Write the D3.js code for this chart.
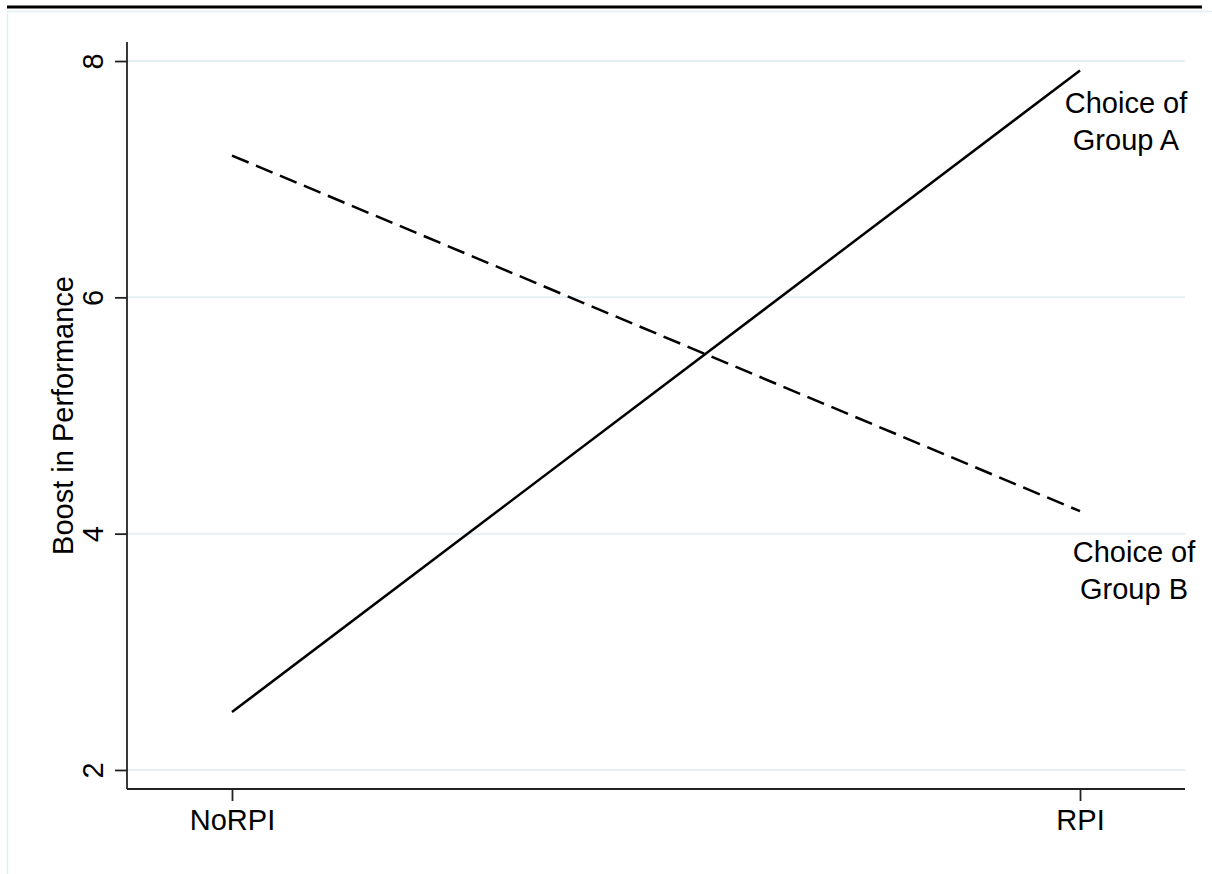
<!DOCTYPE html>
<html>
<head>
<meta charset="utf-8">
<script src="https://cdn.jsdelivr.net/npm/d3@7"></script>
<style>
  html, body { margin: 0; padding: 0; background: #fff; }
  svg { display: block; }
  text { font-family: "Liberation Sans", Arial, Helvetica, sans-serif; fill: #000; }
</style>
</head>
<body>
<svg id="chart" width="1212" height="874"></svg>
<script>
// ---- data ----
const categories = ["NoRPI", "RPI"];
const groupA = [2.49, 7.92];   // solid line
const groupB = [7.2, 4.19];    // dashed line
const yTicks = [2, 4, 6, 8];
const yTitle = "Boost in Performance";
const labelA = ["Choice of", "Group A"];
const labelB = ["Choice of", "Group B"];

// ---- layout ----
const W = 1212, H = 874;
const mLeft = 127, mRight = 1185, mTop = 42, mBottom = 789;
const FS = "29px";
const svg = d3.select("#chart");

// frame
svg.append("line").attr("x1", 7).attr("x2", 1202).attr("y1", 7).attr("y2", 7)
  .attr("stroke", "#000").attr("stroke-width", 3);
svg.append("line").attr("x1", 7).attr("x2", W).attr("y1", 11.5).attr("y2", 11.5)
  .attr("stroke", "#e4eef0").attr("stroke-width", 1.5);
svg.append("line").attr("x1", 7.5).attr("x2", 7.5).attr("y1", 11).attr("y2", H)
  .attr("stroke", "#e4eef0").attr("stroke-width", 1.5);

const x = d3.scalePoint().domain(categories).range([mLeft, mRight]).padding(0.1238);
const y = d3.scaleLinear().domain([1.839, 8.161]).range([mBottom, mTop]);

// gridlines
svg.append("g").selectAll("line").data(yTicks).join("line")
  .attr("x1", mLeft).attr("x2", mRight)
  .attr("y1", d => y(d)).attr("y2", d => y(d))
  .attr("stroke", "#e6eff1").attr("stroke-width", 2);

// y axis
const yAxis = svg.append("g").attr("transform", `translate(${mLeft},0)`)
  .call(d3.axisLeft(y).tickValues(yTicks).tickSize(12).tickPadding(0).tickFormat(d3.format("d")));
yAxis.select(".domain").attr("stroke", "#222").attr("stroke-width", 1.8)
  .attr("d", `M0,${mTop}V${mBottom}`);
yAxis.selectAll(".tick line").attr("stroke", "#222").attr("stroke-width", 1.8);
yAxis.selectAll(".tick text")
  .attr("x", 0).attr("y", 0)
  .attr("transform", "translate(-24,0) rotate(-90)")
  .attr("text-anchor", "middle")
  .attr("dy", 0)
  .style("font-size", FS)
  .style("font-family", "Liberation Sans, Arial, sans-serif")
  .attr("fill", "#000");

// x axis
const xAxis = svg.append("g").attr("transform", `translate(0,${mBottom})`)
  .call(d3.axisBottom(x).tickSize(12).tickPadding(8));
xAxis.select(".domain").attr("stroke", "#222").attr("stroke-width", 1.8)
  .attr("d", `M${mLeft},0H${mRight}`);
xAxis.selectAll(".tick line").attr("stroke", "#222").attr("stroke-width", 1.8);
xAxis.selectAll(".tick text")
  .attr("y", 41).attr("dy", 0)
  .style("font-size", FS)
  .style("font-family", "Liberation Sans, Arial, sans-serif")
  .attr("fill", "#000");

// y title
svg.append("text")
  .attr("transform", `translate(73,${(mTop + mBottom) / 2}) rotate(-90)`)
  .attr("text-anchor", "middle")
  .style("font-size", FS)
  .text(yTitle);

// lines
const line = d3.line().x((d, i) => x(categories[i])).y(d => y(d));
svg.append("path").datum(groupA).attr("d", line)
  .attr("fill", "none").attr("stroke", "#000").attr("stroke-width", 2.5);
svg.append("path").datum(groupB).attr("d", line)
  .attr("fill", "none").attr("stroke", "#000").attr("stroke-width", 2.5)
  .attr("stroke-dasharray", "18,8");

// labels
function addLabel(lines, cx, baseline) {
  const t = svg.append("text").attr("text-anchor", "middle").style("font-size", FS);
  lines.forEach((s, i) => t.append("tspan").attr("x", cx).attr("y", baseline + i * 37).text(s));
}
addLabel(labelA, 1126, 113);
addLabel(labelB, 1134, 562);
</script>
</body>
</html>
